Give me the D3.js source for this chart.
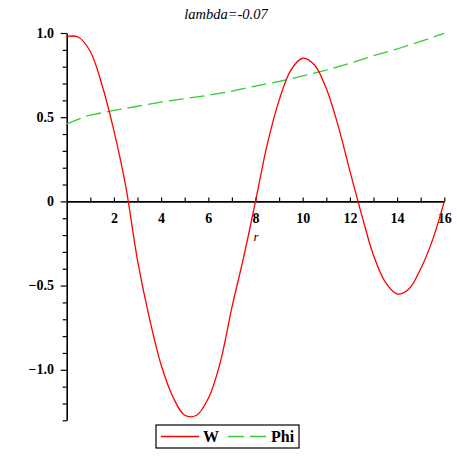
<!DOCTYPE html>
<html><head><meta charset="utf-8">
<script src="https://cdn.jsdelivr.net/npm/d3@7"></script>
<style>body{margin:0;background:#fff}svg{display:block}</style>
</head><body>
<script>
const rW = [0,0.5,1,1.5,2,2.5,3,3.5,4,4.5,5,5.5,6,6.5,7,7.5,8,8.5,9,9.5,10,10.5,11,11.5,12,12.5,13,13.5,14,14.5,15,15.5,16];
const W  = [0.98,0.975,0.89,0.69,0.42,0.09,-0.35,-0.69,-0.97,-1.16,-1.27,-1.27,-1.17,-0.96,-0.63,-0.33,0.0,0.34,0.60,0.78,0.85,0.81,0.67,0.45,0.18,-0.08,-0.32,-0.48,-0.55,-0.52,-0.40,-0.23,0.0];
const rPhi = [0,0.9,2,3,4,5,6,7,8,9,10,11,12,13,14,15,16];
const Phi  = [0.46,0.51,0.54,0.565,0.59,0.61,0.63,0.655,0.685,0.712,0.745,0.78,0.82,0.865,0.905,0.95,0.998];
const xMajor = [2,4,6,8,10,12,14,16];
const yMajor = [1.0,0.5,0,-0.5,-1.0];
const yLabels = ["1.0","0.5","0","\u22120.5","\u22121.0"];
const title = "lambda=-0.07";
const xLabel = "r";
const legendNames = ["W","Phi"];

const svg = d3.select("body").append("svg").attr("width",457).attr("height",457);
const x = d3.scaleLinear().domain([0,16]).range([66.7,444.3]);
const y = d3.scaleLinear().domain([-1.3,1.0]).range([420.3,33]);
const font = "'Liberation Serif','Times New Roman',serif";

// x axis
const xAxis = d3.axisBottom(x).tickValues(d3.range(1,17,1)).tickSize(0).tickFormat("");
const gx = svg.append("g").attr("transform",`translate(0,${y(0)})`).call(xAxis);
gx.select(".domain").attr("stroke","#000").attr("stroke-width",1.6);
gx.selectAll(".tick line").attr("y2",-4).attr("stroke","#000").attr("stroke-width",1.2);
gx.selectAll(".tick").filter(d=>xMajor.includes(d)).append("text")
  .attr("y",22).attr("text-anchor","middle").attr("fill","#000")
  .attr("font-family",font).attr("font-weight","bold").attr("font-size",14)
  .text(d=>d);

// y axis
const yAxis = d3.axisLeft(y).tickValues(d3.range(-13,11,1).map(v=>v/10)).tickSize(0).tickFormat("");
const gy = svg.append("g").attr("transform",`translate(${x(0)},0)`).call(yAxis);
gy.select(".domain").attr("stroke","#000").attr("stroke-width",1.6);
gy.selectAll(".tick line").attr("x2",d=>Math.abs(Math.round(d*10)%5)===0?-6:-4).attr("stroke","#000").attr("stroke-width",1.2);
yMajor.forEach((v,i)=>{
  svg.append("text").attr("x",54).attr("y",y(v)+4.5).attr("text-anchor","end")
    .attr("font-family",font).attr("font-weight","bold").attr("font-size",14).text(yLabels[i]);
});

// title & label
svg.append("text").attr("x",226).attr("y",19).attr("text-anchor","middle")
  .attr("font-family",font).attr("font-style","italic").attr("font-size",14.5).text(title);
svg.append("text").attr("x",256).attr("y",241).attr("text-anchor","middle")
  .attr("font-family",font).attr("font-style","italic").attr("font-size",13).text(xLabel);

// lines
const line = d3.line().x(d=>x(d[0])).y(d=>y(d[1])).curve(d3.curveCatmullRom.alpha(0.5));
const lineLin = d3.line().x(d=>x(d[0])).y(d=>y(d[1]));
svg.append("path").datum(rPhi.map((r,i)=>[r,Phi[i]])).attr("d",lineLin)
  .attr("fill","none").attr("stroke","#33cc33").attr("stroke-width",1.3).attr("stroke-dasharray","15,6");
svg.append("path").datum(rW.map((r,i)=>[r,W[i]])).attr("d",line)
  .attr("fill","none").attr("stroke","#ff0000").attr("stroke-width",1.3);

// legend
const lg = svg.append("g");
lg.append("rect").attr("x",156).attr("y",425).attr("width",143).attr("height",23)
  .attr("fill","#fff").attr("stroke","#000").attr("stroke-width",1.2);
lg.append("line").attr("x1",161).attr("x2",199).attr("y1",436.5).attr("y2",436.5).attr("stroke","#ff0000").attr("stroke-width",1.3);
lg.append("text").attr("x",203).attr("y",442).attr("font-family",font).attr("font-weight","bold").attr("font-size",16).text(legendNames[0]);
lg.append("line").attr("x1",228).attr("x2",266).attr("y1",436.5).attr("y2",436.5).attr("stroke","#33cc33").attr("stroke-width",1.3).attr("stroke-dasharray","16,6");
lg.append("text").attr("x",271).attr("y",442).attr("font-family",font).attr("font-weight","bold").attr("font-size",16).text(legendNames[1]);
</script>
</body></html>
